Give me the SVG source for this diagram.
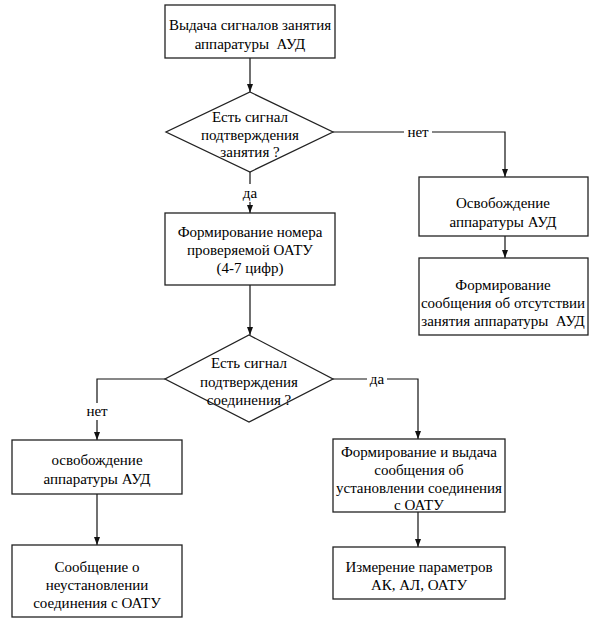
<svg xmlns="http://www.w3.org/2000/svg" width="597" height="623" viewBox="0 0 597 623">
<style>
.box{fill:#fff;stroke:#222;stroke-width:1.3}
.t{font-family:"Liberation Serif","Times New Roman",serif;font-size:15px;fill:#000;text-anchor:middle;white-space:pre}
.c{fill:none;stroke:#111;stroke-width:1.2}
</style>
<defs>
<marker id="ah" viewBox="0 0 8 8" refX="8" refY="4" markerWidth="8" markerHeight="8" markerUnits="userSpaceOnUse" orient="auto">
<path d="M0,1 L8,4 L0,7 Z" fill="#111"/>
</marker>
</defs>
<rect width="597" height="623" fill="#fff"/>
<g id="connectors">
<path class="c" d="M250,58 V92" marker-end="url(#ah)"/>
<path class="c" d="M333,132 H404"/>
<path class="c" d="M432,132 H505 V177" marker-end="url(#ah)"/>
<path class="c" d="M250,172 V184"/>
<path class="c" d="M250,202 V213" marker-end="url(#ah)"/>
<path class="c" d="M505,236 V258" marker-end="url(#ah)"/>
<path class="c" d="M250,285 V335" marker-end="url(#ah)"/>
<path class="c" d="M165,379 H97 V403"/>
<path class="c" d="M97,420 V440" marker-end="url(#ah)"/>
<path class="c" d="M333,379 H367"/>
<path class="c" d="M387,379 H418 V439" marker-end="url(#ah)"/>
<path class="c" d="M97,494 V545" marker-end="url(#ah)"/>
<path class="c" d="M418,512 V547" marker-end="url(#ah)"/>
<text class="t" x="418" y="137">нет</text>
<text class="t" x="250" y="198">да</text>
<text class="t" x="97" y="416">нет</text>
<text class="t" x="377" y="384">да</text>
</g>
<g id="n1">
<rect class="box" x="165" y="5" width="170" height="53"/>
<text class="t" x="250" y="30">Выдача сигналов занятия</text>
<text class="t" x="250" y="49">аппаратуры  АУД</text>
</g>
<g id="d1">
<polygon class="box" points="250,92 333,132 250,172 166,132"/>
<text class="t" x="250" y="122">Есть сигнал</text>
<text class="t" x="250" y="140">подтверждения</text>
<text class="t" x="250" y="157">занятия ?</text>
</g>
<g id="n2">
<rect class="box" x="419" y="177" width="169" height="59"/>
<text class="t" x="503" y="208">Освобождение</text>
<text class="t" x="503" y="227">аппаратуры АУД</text>
</g>
<g id="n3">
<rect class="box" x="419" y="258" width="169" height="77"/>
<text class="t" x="503" y="290">Формирование</text>
<text class="t" x="503" y="308">сообщения об отсутствии</text>
<text class="t" x="503" y="326">занятия аппаратуры  АУД</text>
</g>
<g id="n4">
<rect class="box" x="165" y="213" width="170" height="72"/>
<text class="t" x="250" y="237">Формирование номера</text>
<text class="t" x="250" y="255">проверяемой ОАТУ</text>
<text class="t" x="250" y="273">(4-7 цифр)</text>
</g>
<g id="d2">
<polygon class="box" points="249,335 333,379 249,422 165,379"/>
<text class="t" x="249" y="368">Есть сигнал</text>
<text class="t" x="249" y="387">подтверждения</text>
<text class="t" x="249" y="405">соединения ?</text>
</g>
<g id="n5">
<rect class="box" x="12" y="440" width="170" height="54"/>
<text class="t" x="97" y="465">освобождение</text>
<text class="t" x="97" y="484">аппаратуры АУД</text>
</g>
<g id="n6">
<rect class="box" x="12" y="545" width="170" height="72"/>
<text class="t" x="97" y="572">Сообщение о</text>
<text class="t" x="97" y="590">неустановлении</text>
<text class="t" x="97" y="608">соединения с ОАТУ</text>
</g>
<g id="n7">
<rect class="box" x="333" y="439" width="172" height="73"/>
<text class="t" x="419" y="457">Формирование и выдача</text>
<text class="t" x="419" y="475">сообщения об</text>
<text class="t" x="419" y="493">установлении соединения</text>
<text class="t" x="419" y="510">с ОАТУ</text>
</g>
<g id="n8">
<rect class="box" x="333" y="547" width="172" height="52"/>
<text class="t" x="419" y="572">Измерение параметров</text>
<text class="t" x="419" y="590">АК, АЛ, ОАТУ</text>
</g>
</svg>
